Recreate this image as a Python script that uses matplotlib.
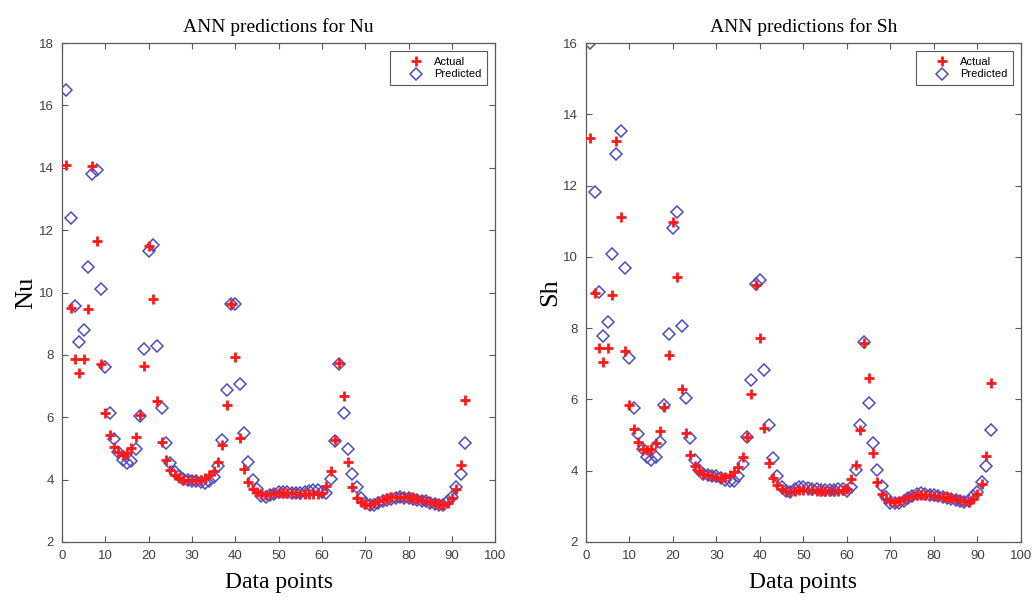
import numpy as np
import matplotlib
matplotlib.use("Agg")
import matplotlib.pyplot as plt

data_points = list(range(1, 94))

nu_actual = [
    14.1, 9.5, 7.87, 7.42, 7.87, 9.47, 14.05, 11.65, 7.71, 6.12,
    5.44, 5.04, 4.87, 4.8, 4.85, 5.0, 5.36, 6.08, 7.63, 11.5,
    9.78, 6.53, 5.19, 4.63, 4.3, 4.15, 4.05, 4.0, 3.98, 3.98,
    3.98, 4.0, 4.05, 4.15, 4.28, 4.55, 5.12, 6.4, 9.62, 7.93,
    5.35, 4.34, 3.91, 3.69, 3.6, 3.55, 3.52, 3.55, 3.57, 3.58,
    3.58, 3.58, 3.57, 3.56, 3.55, 3.55, 3.55, 3.55, 3.55, 3.58,
    3.8, 4.29, 5.28, 7.75, 6.68, 4.56, 3.75, 3.42, 3.28, 3.22,
    3.2, 3.25, 3.3, 3.35, 3.4, 3.43, 3.45, 3.45, 3.45, 3.43,
    3.4, 3.38, 3.35, 3.32, 3.28, 3.25, 3.22, 3.2, 3.25, 3.4,
    3.7, 4.47, 6.54,
]
nu_predicted = [
    16.5, 12.4, 9.58, 8.4, 8.8, 10.82, 13.8, 13.93, 10.1, 7.6,
    6.12, 5.3, 4.9, 4.63, 4.53, 4.61, 4.99, 6.05, 8.19, 11.33,
    11.53, 8.3, 6.31, 5.17, 4.53, 4.25, 4.1, 4.02, 3.98, 3.97,
    3.95, 3.92, 3.9, 3.95, 4.08, 4.45, 5.27, 6.88, 9.62, 9.62,
    7.07, 5.5, 4.58, 4.0, 3.7, 3.48, 3.45, 3.5, 3.55, 3.6,
    3.6, 3.6, 3.58, 3.58, 3.57, 3.6, 3.65, 3.68, 3.66, 3.6,
    3.57, 4.02, 5.25, 7.71, 6.13, 4.98, 4.19, 3.76, 3.4, 3.25,
    3.18, 3.18, 3.25, 3.3, 3.35, 3.38, 3.42, 3.43, 3.42, 3.4,
    3.38, 3.35, 3.32, 3.3, 3.25, 3.22, 3.2, 3.18, 3.3, 3.45,
    3.76, 4.19, 5.17,
]

sh_actual = [
    13.33, 8.99, 7.45, 7.04, 7.43, 8.94, 13.24, 11.11, 7.35, 5.84,
    5.17, 4.8, 4.62, 4.58, 4.6, 4.79, 5.12, 5.8, 7.26, 10.98,
    9.43, 6.28, 5.05, 4.43, 4.13, 4.0, 3.9, 3.87, 3.85, 3.83,
    3.8, 3.82, 3.88, 3.95, 4.1, 4.38, 4.95, 6.15, 9.2, 7.73,
    5.21, 4.23, 3.79, 3.59, 3.48, 3.42, 3.4, 3.42, 3.45, 3.47,
    3.47, 3.45, 3.43, 3.42, 3.42, 3.42, 3.42, 3.42, 3.45, 3.5,
    3.76, 4.16, 5.13, 7.58, 6.6, 4.49, 3.68, 3.35, 3.2, 3.15,
    3.12, 3.15, 3.2, 3.25, 3.3, 3.33, 3.33, 3.33, 3.32, 3.3,
    3.28, 3.27, 3.25, 3.22, 3.2, 3.17, 3.15, 3.12, 3.2, 3.35,
    3.62, 4.41, 6.47,
]
sh_predicted = [
    15.99, 11.82, 9.01, 7.79, 8.17, 10.08, 12.89, 13.54, 9.69, 7.17,
    5.75, 5.03, 4.62, 4.39, 4.29, 4.39, 4.8, 5.83, 7.84, 10.81,
    11.26, 8.05, 6.05, 4.92, 4.3, 4.03, 3.92, 3.87, 3.85, 3.85,
    3.8, 3.75, 3.72, 3.72, 3.84, 4.18, 4.95, 6.55, 9.25, 9.35,
    6.82, 5.28, 4.37, 3.85, 3.55, 3.42, 3.4, 3.5, 3.55, 3.55,
    3.52, 3.5, 3.48, 3.47, 3.45, 3.45, 3.47, 3.48, 3.48, 3.43,
    3.54, 4.02, 5.28, 7.6, 5.91, 4.77, 4.02, 3.57, 3.25, 3.1,
    3.08, 3.1, 3.15, 3.22, 3.3, 3.35, 3.37, 3.36, 3.33, 3.32,
    3.28, 3.25, 3.22, 3.2, 3.17, 3.15, 3.12, 3.15, 3.28, 3.4,
    3.68, 4.13, 5.13,
]

x_ticks = [0, 10, 20, 30, 40, 50, 60, 70, 80, 90, 100]
nu_ticks = [2, 4, 6, 8, 10, 12, 14, 16, 18]
sh_ticks = [2, 4, 6, 8, 10, 12, 14, 16]

serif = ["Liberation Serif", "DejaVu Serif"]
sans = ["Liberation Sans", "DejaVu Sans"]
axis_grey = "#5a5a5a"
tick_grey = "#404040"
red = "#ff1a1a"
blue = "#4b4bc4"

fig = plt.figure(figsize=(10.34, 6.0), dpi=100)
ax_nu = fig.add_axes([0.0600, 0.0967, 0.4190, 0.8316])
ax_sh = fig.add_axes([0.5667, 0.0967, 0.4207, 0.8316])


def draw_panel(ax, actual, predicted, yticks, ylabel, title):
    ax.plot(data_points, actual, linestyle="none", marker="+", markersize=7,
            markeredgewidth=2.0, color=red, label="Actual", zorder=3)
    ax.plot(data_points, predicted, linestyle="none", marker="D", markersize=5.8,
            markerfacecolor="none", markeredgewidth=1.1, markeredgecolor=blue,
            label="Predicted", zorder=2)
    ax.set_xlim(0, 100)
    ax.set_ylim(yticks[0], yticks[-1])
    ax.set_xticks(x_ticks)
    ax.set_yticks(yticks)
    ax.tick_params(direction="in", length=4, width=0.8, top=True, right=True,
                   colors=axis_grey, labelcolor=tick_grey, labelsize=9.5, pad=6)
    for lab in ax.get_xticklabels() + ax.get_yticklabels():
        lab.set_family(sans)
    for spine in ax.spines.values():
        spine.set_color(axis_grey)
        spine.set_linewidth(0.9)
    ax.set_title(title, family=serif, fontsize=14, pad=8)
    ax.set_xlabel("Data points", family=serif, fontsize=17, labelpad=7)
    ax.set_ylabel(ylabel, family=serif, fontsize=19, labelpad=1)
    leg = ax.legend(loc="upper right", prop={"family": sans, "size": 8},
                    fancybox=False, framealpha=1, borderpad=0.5,
                    handlelength=3.6, handletextpad=-0.15, labelspacing=0.25,
                    bbox_to_anchor=(0.994, 0.995))
    leg.get_frame().set_edgecolor(axis_grey)
    leg.get_frame().set_linewidth(0.8)


draw_panel(ax_nu, nu_actual, nu_predicted, nu_ticks, "Nu", "ANN predictions for Nu")
draw_panel(ax_sh, sh_actual, sh_predicted, sh_ticks, "Sh", "ANN predictions for Sh")

fig.savefig("out.png", dpi=100)
